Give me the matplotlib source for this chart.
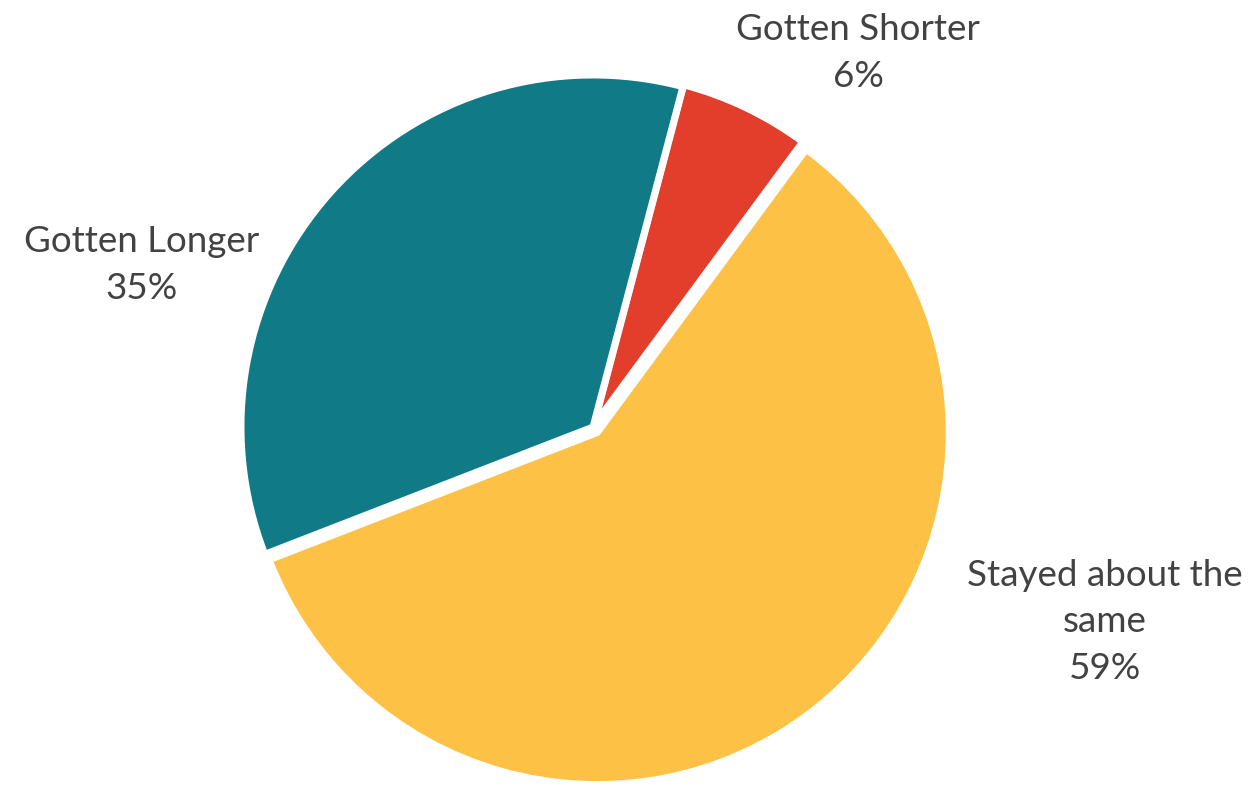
import matplotlib.pyplot as plt

# slices, drawn clockwise starting from the top
labels = ['Gotten Shorter', 'Stayed about the\nsame', 'Gotten Longer']
values = [6, 59, 35]
colors = ['#e33d2b', '#fdc245', '#107b87']
explode = [2, 7, 0]  # offsets in pixel units (axes are in pixels)

plt.rcParams['font.family'] = ['Lato', 'DejaVu Sans']

fig = plt.figure(figsize=(12.54, 7.87), dpi=100)
ax = fig.add_axes([0, 0, 1, 1])

ax.pie(values, colors=colors, explode=explode, startangle=75.2, counterclock=False,
       center=(593, 787 - 427), radius=352,
       wedgeprops=dict(edgecolor='white', linewidth=5))

# pie() resets the limits, so pin them to pixel units afterwards
ax.set_xlim(0, 1254)
ax.set_ylim(0, 787)
ax.set_aspect('equal')
ax.axis('off')

# outside labels
txt = dict(ha='center', va='center', fontsize=26.5, color='#424242', linespacing=1.5)
ax.text(858, 787 - 53, labels[0] + '\n%d%%' % values[0], **txt)
ax.text(1105, 787 - 622, labels[1] + '\n%d%%' % values[1], **txt)
ax.text(142, 787 - 265, labels[2] + '\n%d%%' % values[2], **txt)

fig.savefig('out.png', dpi=100)
